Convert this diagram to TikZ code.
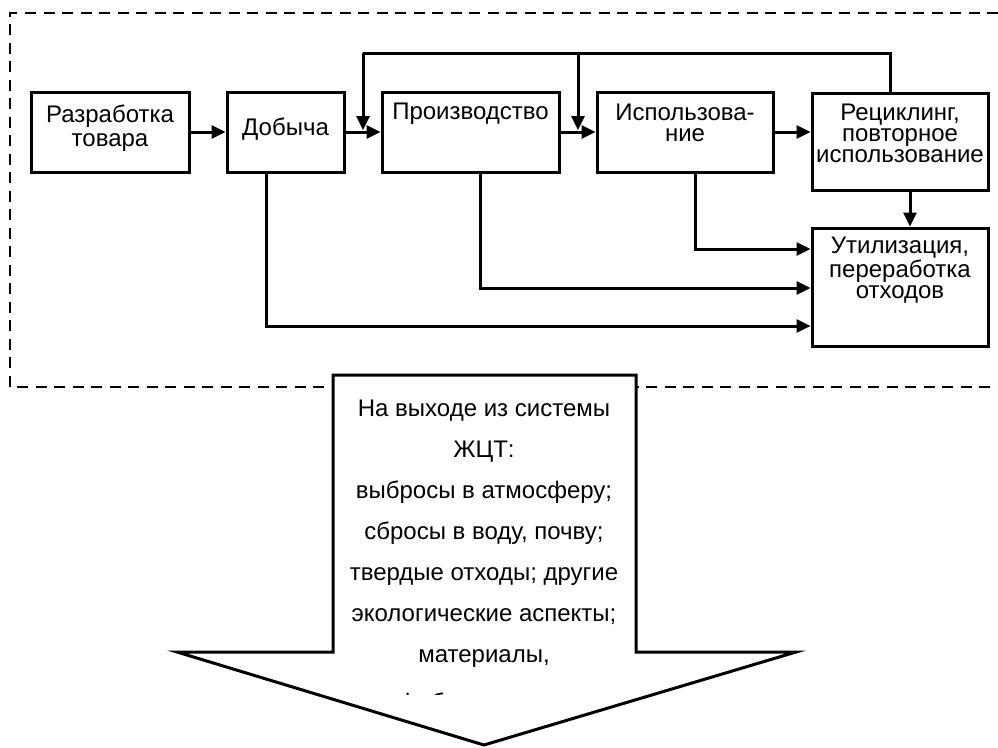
\documentclass[tikz,border=0pt]{standalone}
\usepackage{fontspec}
\setmainfont{Liberation Sans}
\usetikzlibrary{arrows.meta}
\begin{document}
\begin{tikzpicture}[x=1pt,y=-1pt,
  box/.style={draw, line width=3pt, inner sep=0pt},
  lbl/.style={font=\fontsize{24}{21}\selectfont, align=center, inner sep=0pt, anchor=base},
  conn/.style={line width=3pt, -{Triangle[length=14pt,width=13pt]}},
  plain/.style={line width=3pt},
  frame/.style={line width=2.5pt, dash pattern=on 11pt off 7.5pt},
  bigarrow/.style={line width=3pt, fill=white, line join=miter},
  arrtext/.style={font=\fontsize{24}{41}\selectfont, align=center, inner sep=0pt, anchor=base}]
\useasboundingbox (0,0) rectangle (998,747);

% dashed system boundary
\draw[frame] (998,13) -- (10,13) -- (10,387) -- (998,387);

% boxes
\node[box, minimum width=158pt, minimum height=80pt] (raz) at (110,132) {};
\node[box, minimum width=117pt, minimum height=80pt] (dob) at (285.5,132) {};
\node[box, minimum width=177pt, minimum height=80pt] (pro) at (470.5,132) {};
\node[box, minimum width=176pt, minimum height=80pt] (isp) at (685,132) {};
\node[box, minimum width=176pt, minimum height=97pt] (rec) at (900,141.5) {};
\node[box, minimum width=176pt, minimum height=118pt] (uti) at (900,287) {};

% labels (base anchor = baseline of the last line)
\node[lbl, font=\fontsize{24}{24}\selectfont] (tRaz) at (110,146) {Разработка\\товара};
\node[lbl] (tDob) at (285.5,135) {Добыча};
\node[lbl] (tPro) at (470.5,119) {Производство};
\node[lbl] (tIsp) at (685,141) {Использова-\\ние};
\node[lbl] (tRec) at (900,162) {Рециклинг,\\повторное\\использование};
\node[lbl] (tUti) at (900,298) {Утилизация,\\переработка\\отходов};

% main flow
\draw[conn] (raz) -- (dob);
\draw[conn] (dob) -- (pro);
\draw[conn] (pro) -- (isp);
\draw[conn] (isp.east) -- (isp.east -| rec.west);

% feedback loop
\coordinate (fbR) at (890,53);
\coordinate (fbL) at (363,53);
\coordinate (fbM) at (578,53);
\coordinate (inL) at (363,130);
\coordinate (inM) at (578,130);
\draw[plain] (rec.north -| fbR) -- (fbR) -- (fbL);
\draw[conn] (fbL) -- (inL);
\draw[conn] (fbM) -- (inM);

% to disposal
\draw[conn] ([xshift=10pt]rec.south) -- ([xshift=10pt]uti.north);
\coordinate (yA) at (0,249);
\coordinate (yB) at (0,288);
\coordinate (yC) at (0,326);
\draw[conn] ([xshift=10pt]isp.south) |- (uti.west |- yA);
\draw[conn] ([xshift=9.5pt]pro.south) |- (uti.west |- yB);
\draw[conn] ([xshift=-19.5pt]dob.south) |- (uti.west |- yC);

% output arrow
\draw[bigarrow] (333,375) -- (636,375) -- (636,652) -- (796,652) -- (484,745)
  -- (177,652) -- (333,652) -- cycle;
\node[arrtext] (out) at (484,662) {На выходе из системы\\ЖЦТ:\\выбросы в атмосферу;\\сбросы в воду, почву;\\твердые отходы; другие\\экологические аспекты;\\материалы,};
\begin{scope}
\clip (300,600) rectangle (700,694.5);
\node[font=\fontsize{24}{41}\selectfont, inner sep=0pt, anchor=base west] (cut) at (346,710) {полуфабрикаты,};
\end{scope}
\end{tikzpicture}
\end{document}
